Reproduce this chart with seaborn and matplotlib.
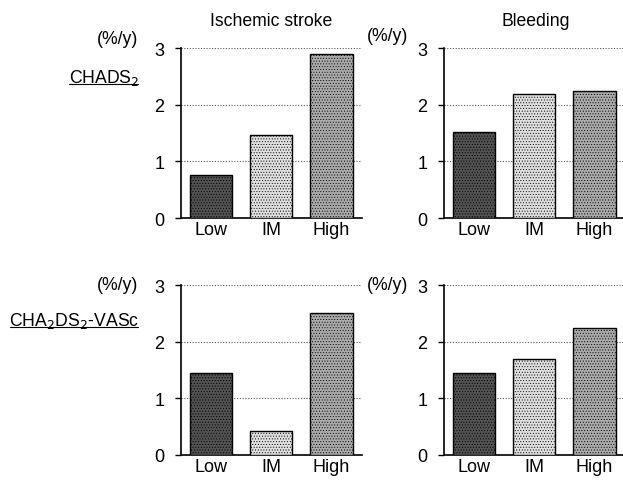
import matplotlib
matplotlib.use("Agg")
import matplotlib.pyplot as plt
import seaborn as sns
import pandas as pd
from matplotlib.lines import Line2D

categories = ["Low", "IM", "High"]
chads_stroke = [0.76, 1.46, 2.90]
chads_bleed = [1.51, 2.19, 2.24]
vasc_stroke = [1.45, 0.42, 2.51]
vasc_bleed = [1.44, 1.69, 2.24]
yticks = [0, 1, 2, 3]
bar_colors = ["#525252", "#e0e0e0", "#ababab"]

sns.set_style("white")
plt.rcParams['font.family'] = ['Liberation Sans', 'DejaVu Sans']
plt.rcParams['text.color'] = 'black'
plt.rcParams['xtick.color'] = 'black'
plt.rcParams['ytick.color'] = 'black'
plt.rcParams['hatch.color'] = '#888888'
plt.rcParams['hatch.linewidth'] = 0.4

fig = plt.figure(figsize=(6.23, 4.81), dpi=100)

W = 0.29
H = 0.3534
positions = {
    "tl": [181/623, 1 - 219/481, W, H],
    "tr": [444/623, 1 - 219/481, W, H],
    "bl": [181/623, 1 - 456/481, W, H],
    "br": [444/623, 1 - 456/481, W, H],
}
datasets = {"tl": chads_stroke, "tr": chads_bleed, "bl": vasc_stroke, "br": vasc_bleed}

for key, pos in positions.items():
    ax = fig.add_axes(pos)
    df = pd.DataFrame({"cat": categories, "val": datasets[key]})
    sns.barplot(data=df, x="cat", y="val", hue="cat", palette=bar_colors,
                legend=False, width=0.7, edgecolor="black", linewidth=1.0,
                ax=ax, zorder=3)
    for p in ax.patches:
        p.set_hatch("......")
    ax.set_xlim(-0.5, 2.5)
    ax.set_ylim(0, 3)
    ax.set_yticks(yticks)
    ax.set_yticklabels([str(t) for t in yticks], fontsize=13)
    ax.set_xlabel("")
    ax.set_ylabel("")
    ax.tick_params(axis="x", length=0, labelsize=13, pad=2)
    ax.tick_params(axis="y", length=4, width=1, direction="out", pad=8, left=True)
    for y in [1, 2, 3]:
        ax.axhline(y, color="#555555", linestyle=(0, (1, 1.5)), linewidth=0.8, zorder=1)
    for s in ["top", "right"]:
        ax.spines[s].set_visible(False)
    for s in ["left", "bottom"]:
        ax.spines[s].set_visible(True)
        ax.spines[s].set_color("black")
        ax.spines[s].set_linewidth(1.2)

fs = 12.7
fig.text(271/623, 1 - 22/481, "Ischemic stroke", ha="center", va="center", fontsize=fs)
fig.text(536/623, 1 - 22/481, "Bleeding", ha="center", va="center", fontsize=fs)
fig.text(138/623, 1 - 39/481, "(%/y)", ha="right", va="center", fontsize=fs)
fig.text(408/623, 1 - 37/481, "(%/y)", ha="right", va="center", fontsize=fs)
fig.text(138/623, 1 - 286/481, "(%/y)", ha="right", va="center", fontsize=fs)
fig.text(408/623, 1 - 286/481, "(%/y)", ha="right", va="center", fontsize=fs)

fig.text(139/623, 1 - 78/481, r"CHADS$_2$", ha="right", va="center", fontsize=fs)
fig.add_artist(Line2D([69/623, 138/623], [1 - 85/481, 1 - 85/481], color="black", linewidth=0.8))
fig.text(139/623, 1 - 321/481, r"CHA$_2$DS$_2$-VASc", ha="right", va="center", fontsize=fs)
fig.add_artist(Line2D([10/623, 138/623], [1 - 328/481, 1 - 328/481], color="black", linewidth=0.8))

fig.savefig("out.png", dpi=100)
